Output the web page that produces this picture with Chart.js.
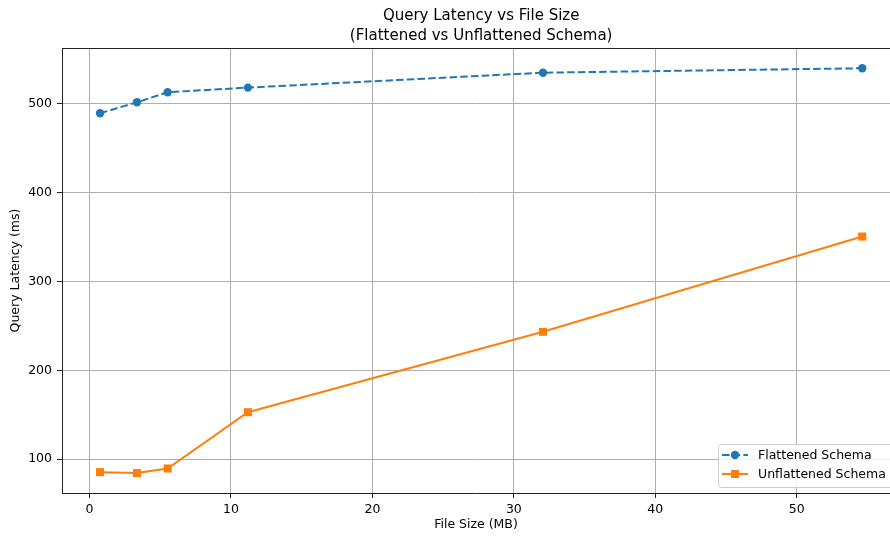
<!DOCTYPE html>
<html>
<head>
<meta charset="utf-8">
<script src="https://cdn.jsdelivr.net/npm/chart.js@4/dist/chart.umd.min.js"></script>
<style>
  html, body { margin: 0; padding: 0; background: #fff; overflow: hidden; }
  #wrap { width: 890px; height: 536px; }
</style>
</head>
<body>
<div id="wrap"><canvas id="chart" width="890" height="536"></canvas></div>
<script>
const fileSizes = [0.75, 3.36, 5.53, 11.2, 32.06, 54.63];
const flattened = [489.5, 501.9, 513.2, 518.4, 535.2, 540.2];
const unflattened = [85.4, 84.3, 89.5, 152.9, 243.4, 350.7];
const xTicks = [0, 10, 20, 30, 40, 50];
const yTicks = [100, 200, 300, 400, 500];
const seriesNames = ['Flattened Schema', 'Unflattened Schema'];
const titleLines = ['Query Latency vs File Size', '(Flattened vs Unflattened Schema)'];

const BLUE = '#1f77b4';
const ORANGE = '#ff7f0e';
const FONT = 'DejaVu Sans';
// the axes run a little past the right edge of the picture
const X_MIN = -1.94, X_FULL_MAX = 57.32, X_VISIBLE_MAX = 56.59;

const toPoints = (xs, ys) => xs.map((x, i) => ({ x, y: ys[i] }));

// title centred on the full axes, top spine, legend in the lower right corner
const extras = {
    id: 'extras',
    afterDraw(chart) {
        const { ctx, chartArea: a } = chart;
        ctx.save();
        ctx.fillStyle = '#000';
        ctx.font = '15px ' + FONT;
        ctx.textAlign = 'center';
        ctx.textBaseline = 'middle';
        const cx = chart.scales.x.getPixelForValue((X_MIN + X_FULL_MAX) / 2);
        ctx.fillText(titleLines[0], cx, 16);
        ctx.fillText(titleLines[1], cx, 36);

        ctx.strokeStyle = '#222';
        ctx.lineWidth = 1;
        ctx.beginPath();
        ctx.moveTo(a.left, a.top + 0.5);
        ctx.lineTo(a.right, a.top + 0.5);
        ctx.stroke();

        const bx = 718, by = 444, bw = 176, bh = 43;
        ctx.fillStyle = 'rgba(255,255,255,0.8)';
        ctx.strokeStyle = '#cccccc';
        ctx.beginPath();
        ctx.roundRect(bx + 0.5, by + 0.5, bw, bh, 3);
        ctx.fill();
        ctx.stroke();

        const rows = [
            { color: BLUE, dash: [7.5, 3.2], y: 455, marker: 'circle' },
            { color: ORANGE, dash: [], y: 474, marker: 'square' }
        ];
        rows.forEach((r, i) => {
            ctx.strokeStyle = r.color;
            ctx.lineWidth = 2;
            ctx.setLineDash(r.dash);
            ctx.beginPath();
            ctx.moveTo(722, r.y);
            ctx.lineTo(748, r.y);
            ctx.stroke();
            ctx.setLineDash([]);
            ctx.fillStyle = r.color;
            if (r.marker === 'circle') {
                ctx.beginPath();
                ctx.arc(735, r.y, 4.2, 0, Math.PI * 2);
                ctx.fill();
            } else {
                ctx.fillRect(731, r.y - 4, 8, 8);
            }
            ctx.fillStyle = '#000';
            ctx.font = '12.5px ' + FONT;
            ctx.textBaseline = 'middle';
            ctx.textAlign = 'left';
            ctx.fillText(seriesNames[i], 758, r.y + 0.5);
        });
        ctx.restore();
    }
};

new Chart(document.getElementById('chart'), {
    type: 'line',
    data: {
        datasets: [{
            label: seriesNames[0],
            data: toPoints(fileSizes, flattened),
            borderColor: BLUE,
            backgroundColor: BLUE,
            borderWidth: 2,
            borderDash: [7.5, 3.2],
            pointStyle: 'circle',
            pointRadius: 4.2,
            pointBorderWidth: 0,
            tension: 0
        }, {
            label: seriesNames[1],
            data: toPoints(fileSizes, unflattened),
            borderColor: ORANGE,
            backgroundColor: ORANGE,
            borderWidth: 2,
            pointStyle: 'rect',
            pointRadius: 5.7,
            pointBorderWidth: 0,
            tension: 0
        }]
    },
    options: {
        responsive: false,
        animation: false,
        layout: { padding: { top: 48, left: 0, right: 0, bottom: 0 }, autoPadding: false },
        plugins: {
            legend: { display: false },
            tooltip: { enabled: false },
            title: { display: false }
        },
        scales: {
            x: {
                type: 'linear',
                min: X_MIN,
                max: X_VISIBLE_MAX,
                afterBuildTicks: s => { s.ticks = xTicks.map(v => ({ value: v })); },
                afterFit: s => { s.height = 43; },
                grid: { color: '#b0b0b0', lineWidth: 1, tickColor: '#222', tickLength: 5 },
                border: { display: true, color: '#222', width: 1 },
                ticks: { color: '#000', font: { family: FONT, size: 12.5 }, padding: 4, maxRotation: 0 },
                title: {
                    display: true, text: 'File Size (MB)', color: '#000',
                    font: { family: FONT, size: 12.5 }, padding: { top: 0, bottom: 4 }
                }
            },
            y: {
                type: 'linear',
                min: 61.9,
                max: 563,
                afterBuildTicks: s => { s.ticks = yTicks.map(v => ({ value: v })); },
                afterFit: s => { s.width = 62; },
                grid: { color: '#b0b0b0', lineWidth: 1, tickColor: '#222', tickLength: 5 },
                border: { display: true, color: '#222', width: 1 },
                ticks: { color: '#000', font: { family: FONT, size: 12.5 }, padding: 5 },
                title: {
                    display: true, text: 'Query Latency (ms)', color: '#000',
                    font: { family: FONT, size: 12.5 }, padding: { top: 8, bottom: 0 }
                }
            }
        }
    },
    plugins: [extras]
});
</script>
</body>
</html>
